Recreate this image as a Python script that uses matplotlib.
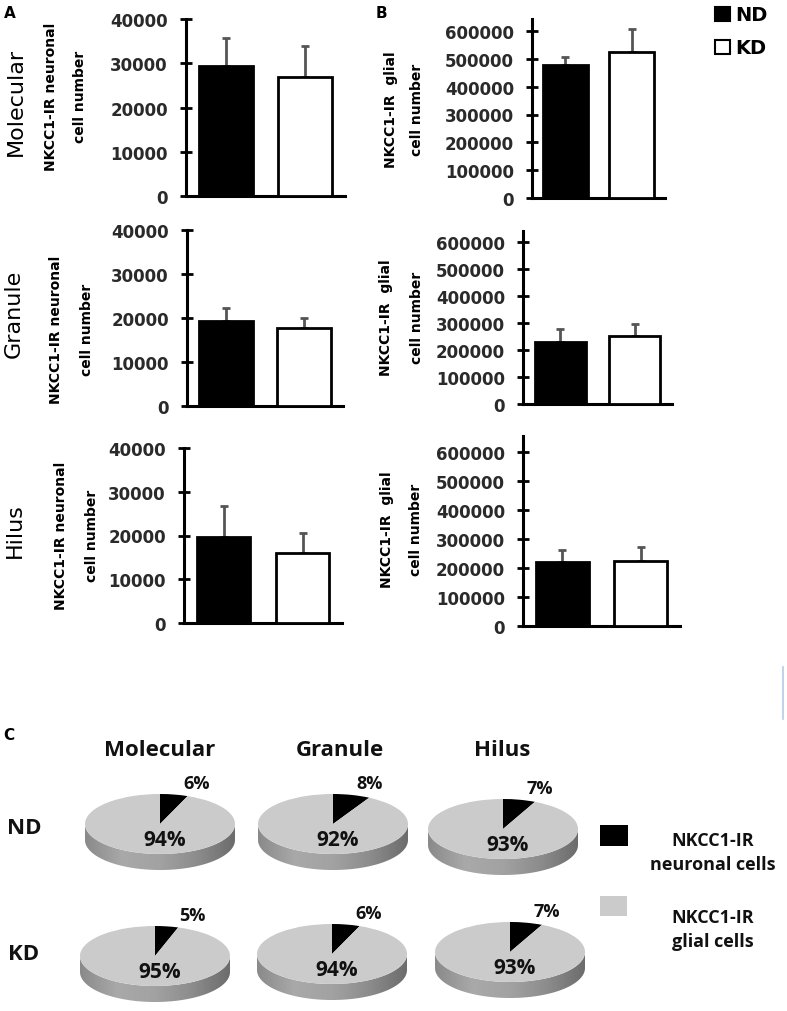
import numpy as np
import matplotlib
matplotlib.use("Agg")
import matplotlib.pyplot as plt
from matplotlib.patches import Polygon, Rectangle
from matplotlib.lines import Line2D

# ---------------- data ----------------
regions = ["Molecular", "Granule", "Hilus"]
groups = ["ND", "KD"]
neuronal_ND = [29300, 19300, 19600]
neuronal_ND_err = [6500, 3000, 7100]
neuronal_KD = [26800, 17800, 16000]
neuronal_KD_err = [7100, 2200, 4500]
glial_ND = [478000, 230000, 221000]
glial_ND_err = [29000, 48000, 41000]
glial_KD = [525000, 252000, 224000]
glial_KD_err = [83000, 44000, 48000]
neuronal_ticks = [0, 10000, 20000, 30000, 40000]
glial_ticks = [0, 100000, 200000, 300000, 400000, 500000, 600000]
pct_neuronal_ND = [6, 8, 7]
pct_glial_ND = [94, 92, 93]
pct_neuronal_KD = [5, 6, 7]
pct_glial_KD = [95, 94, 93]
legend_labels = ["NKCC1-IR\nneuronal cells", "NKCC1-IR\nglial cells"]

W, H = 787, 1012
fig = plt.figure(figsize=(W / 100, H / 100), dpi=100)
plt.rcParams["font.family"] = ["DejaVu Sans"]

def fx(x):
    return x / W

def fy(y):
    return 1 - y / H

def add_px_axes(x0, x1, ytop, ybot):
    return fig.add_axes([fx(x0), fy(ybot), (x1 - x0) / W, (ybot - ytop) / H])

TICKC = "#2a2a2a"

def bar_panel(x0, x1, y_top_spine, y_zero, y_maxtick, maxtick, ticks, vals, errs):
    ymax = maxtick * (y_zero - y_top_spine) / (y_zero - y_maxtick)
    ax = add_px_axes(x0, x1, y_top_spine, y_zero)
    xs = [0, 1]
    ax.bar(xs, vals, width=0.68, color=["black", "white"], edgecolor="black",
           linewidth=2.0, zorder=3)
    ax.errorbar(xs, vals, yerr=[[0, 0], errs], fmt="none", ecolor="#555555",
                elinewidth=2.0, capsize=3, capthick=2.0, zorder=2)
    ax.set_xlim(-0.5, 1.5)
    ax.set_ylim(0, ymax)
    ax.set_yticks(ticks)
    ax.set_yticklabels([str(t) for t in ticks])
    ax.set_xticks([])
    for s in ["top", "right"]:
        ax.spines[s].set_visible(False)
    for s in ["left", "bottom"]:
        ax.spines[s].set_linewidth(2.2)
        ax.spines[s].set_color("black")
    ax.tick_params(axis="y", direction="inout", length=8, width=2.0, pad=9,
                   labelsize=12, labelcolor=TICKC, color="black")
    for lab in ax.get_yticklabels():
        lab.set_fontweight("bold")
    ax.set_facecolor("none")
    return ax

# Panel A (neuronal)
bar_panel(186, 345, 20, 197, 20, 40000, neuronal_ticks,
          [neuronal_ND[0], neuronal_KD[0]], [neuronal_ND_err[0], neuronal_KD_err[0]])
bar_panel(187, 343, 231, 407, 231, 40000, neuronal_ticks,
          [neuronal_ND[1], neuronal_KD[1]], [neuronal_ND_err[1], neuronal_KD_err[1]])
bar_panel(184, 342, 449, 624, 449, 40000, neuronal_ticks,
          [neuronal_ND[2], neuronal_KD[2]], [neuronal_ND_err[2], neuronal_KD_err[2]])
# Panel B (glial)
bar_panel(532, 665, 20, 199, 32, 600000, glial_ticks,
          [glial_ND[0], glial_KD[0]], [glial_ND_err[0], glial_KD_err[0]])
bar_panel(523, 672, 232, 405, 243, 600000, glial_ticks,
          [glial_ND[1], glial_KD[1]], [glial_ND_err[1], glial_KD_err[1]])
bar_panel(523, 680, 437, 627, 453, 600000, glial_ticks,
          [glial_ND[2], glial_KD[2]], [glial_ND_err[2], glial_KD_err[2]])

# y labels
lab_kw = dict(rotation=90, ha="center", va="center", fontsize=10, fontweight="bold",
              color="black")
for (yc, x1, x2) in [(97, 51, 80), (330, 56, 87), (536, 61, 92)]:
    fig.text(fx(x1), fy(yc), "NKCC1-IR neuronal", **lab_kw)
    fig.text(fx(x2), fy(yc), "cell number", **lab_kw)
for (yc, x1, x2) in [(110, 391, 417), (318, 386, 417), (530, 387, 416)]:
    fig.text(fx(x1), fy(yc), "NKCC1-IR  glial", **lab_kw)
    fig.text(fx(x2), fy(yc), "cell number", **lab_kw)
for (name, x, y) in zip(regions, [16, 14, 15], [102, 314, 531]):
    fig.text(fx(x), fy(y), name, rotation=90, ha="center", va="center", fontsize=16,
             color="black")

# panel letters
fig.text(fx(10), fy(13), "A", ha="center", va="center", fontsize=11, fontweight="bold")
fig.text(fx(381), fy(13), "B", ha="center", va="center", fontsize=11, fontweight="bold")
fig.text(fx(9), fy(736), "C", ha="center", va="center", fontsize=11, fontweight="bold")

# top legend
legax = fig.add_axes([0, 0, 1, 1], facecolor="none")
legax.set_xlim(0, W)
legax.set_ylim(H, 0)
legax.axis("off")
legax.add_patch(Rectangle((715, 8), 15, 14, facecolor="black", edgecolor="black", lw=1.5))
legax.add_patch(Rectangle((715, 41), 15, 14, facecolor="white", edgecolor="black", lw=1.5))
legax.text(735, 15, groups[0], ha="left", va="center", fontsize=14, fontweight="bold")
legax.text(735, 48, groups[1], ha="left", va="center", fontsize=14, fontweight="bold")
legax.add_line(Line2D([783, 783], [668, 720], color="#b5cbe6", lw=1.2))

# ---------------- pies ----------------
PF = ["Open Sans", "DejaVu Sans"]
A_R, B_R, D_R = 75.0, 30.0, 16.0
GLIAL = "#cbcbcb"
from matplotlib.colors import LinearSegmentedColormap
side_cmap = LinearSegmentedColormap.from_list(
    "side", ["#8a8a8a", "#a9a9a9", "#a2a2a2", "#8c8c8c", "#6c6c6c"])

def pie3d(cx, top, neur, gli):
    m = 6
    ax = add_px_axes(cx - A_R - m, cx + A_R + m, top - m, top + 2 * B_R + D_R + m)
    ax.pie([neur, gli], colors=["black", GLIAL], startangle=90, counterclock=False,
           radius=1.0, center=(0, 0), wedgeprops=dict(linewidth=0), normalize=True)
    ax.set_aspect("auto")
    ax.set_xlim(-(A_R + m) / A_R, (A_R + m) / A_R)
    dd = D_R / B_R
    ax.set_ylim(-(B_R + D_R + m) / B_R, (B_R + m) / B_R)
    th = np.linspace(np.pi, 2 * np.pi, 200)
    xs = np.cos(th)
    ys = np.sin(th)
    pts = np.concatenate([np.column_stack([xs, ys]),
                          np.column_stack([xs[::-1], ys[::-1] - dd])])
    poly = Polygon(pts, closed=True, facecolor="none", edgecolor="none")
    ax.add_patch(poly)
    grad = np.linspace(0, 1, 256).reshape(1, -1)
    im = ax.imshow(grad, extent=(-1, 1, -1 - dd, 0), cmap=side_cmap, aspect="auto",
                   zorder=0.5, interpolation="bilinear")
    im.set_clip_path(poly)
    ax.set_xlim(-(A_R + m) / A_R, (A_R + m) / A_R)
    ax.set_ylim(-(B_R + D_R + m) / B_R, (B_R + m) / B_R)
    ax.axis("off")
    ax.text(5 / A_R, -(46 - B_R) / B_R, f"{gli}%", ha="center", va="center",
            fontsize=15, fontweight="bold", family=PF, color="#111111")
    ax.text(37 / A_R, (B_R + 11) / B_R, f"{neur}%", ha="center", va="center",
            fontsize=13, fontweight="bold", family=PF, color="#111111")
    return ax

nd_pos = [(160, 795), (333, 795), (503, 800)]
kd_pos = [(155, 927), (332, 925), (510, 923)]
for i in range(3):
    pie3d(nd_pos[i][0], nd_pos[i][1], pct_neuronal_ND[i], pct_glial_ND[i])
    pie3d(kd_pos[i][0], kd_pos[i][1], pct_neuronal_KD[i], pct_glial_KD[i])

for name, x in zip(regions, [160, 340, 502]):
    fig.text(fx(x), fy(750), name, ha="center", va="center", fontsize=16,
             fontweight="bold", family=PF, color="#111111")
fig.text(fx(24), fy(828), groups[0], ha="center", va="center", fontsize=16,
         fontweight="bold", family=PF, color="#111111")
fig.text(fx(24), fy(955), groups[1], ha="center", va="center", fontsize=16,
         fontweight="bold", family=PF, color="#111111")

legax.add_patch(Rectangle((600, 826), 28, 21, facecolor="black", edgecolor="none"))
legax.add_patch(Rectangle((600, 897), 27, 20, facecolor=GLIAL, edgecolor="none"))
legax.text(713, 853, legend_labels[0], ha="center", va="center", fontsize=13,
           fontweight="bold", family=PF, linespacing=1.45, color="#111111")
legax.text(713, 930, legend_labels[1], ha="center", va="center", fontsize=13,
           fontweight="bold", family=PF, linespacing=1.45, color="#111111")

fig.savefig("out.png", dpi=100, facecolor="white")
